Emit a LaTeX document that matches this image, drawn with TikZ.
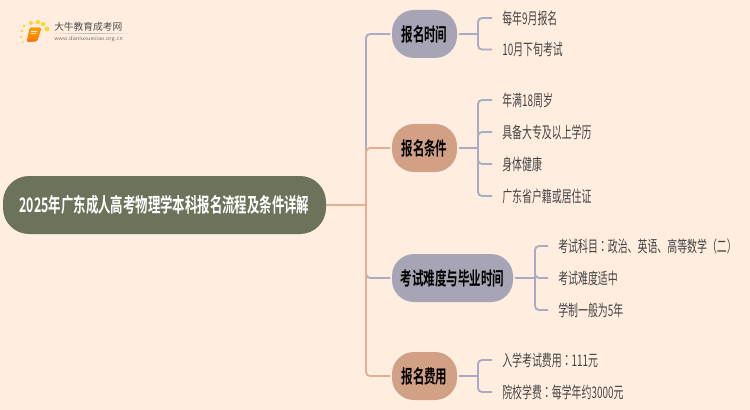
\documentclass[tikz,border=0pt]{standalone}
\usepackage{fontspec}
\newfontfamily\cjk[FakeStretch=0.62]{Noto Sans CJK SC}
\newfontfamily\cjkb[FakeStretch=0.62]{Noto Sans CJK SC Bold}
\newfontfamily\cjktc[FakeStretch=0.62]{Noto Sans CJK TC}
\newfontfamily\cjklogo{Noto Sans CJK SC}
\definecolor{bgc}{HTML}{FFEEE0}
\definecolor{rootc}{HTML}{6B735A}
\definecolor{grayb}{HTML}{A7A5B5}
\definecolor{brownb}{HTML}{D2A084}
\definecolor{linegray}{HTML}{A9ABC4}
\definecolor{lineorange}{HTML}{E3AE92}
\definecolor{leaftext}{HTML}{444444}
\tikzset{
  x=0.75pt,y=-0.75pt,
  rootbox/.style={fill=rootc,rounded corners=19.5pt,text=white,font=\cjkb\fontsize{15pt}{18pt}\selectfont,minimum height=43.5pt,minimum width=242.25pt,inner sep=0pt},
  branchbox/.style={rounded corners=16.5pt,text=black,font=\cjkb\fontsize{13.9pt}{16pt}\selectfont,minimum height=36pt,inner sep=0pt},
  graybox/.style={branchbox,fill=grayb},
  brownbox/.style={branchbox,fill=brownb},
  leaf/.style={anchor=west,inner ysep=0pt,inner xsep=7.5pt,text=leaftext,font=\cjk\fontsize{12pt}{14pt}\selectfont},
  conn/.style={line width=1.4pt,rounded corners=3pt,linegray},
  connb/.style={line width=1.4pt,rounded corners=3pt,lineorange},
}
\begin{document}
\begin{tikzpicture}
\useasboundingbox (0,0) rectangle (750,410);
\fill[bgc] (0,0) rectangle (750,410);
% logo
\foreach \p/\c/\s in {24/26/3,31/23/4,38/22/4.5,43/24/4.5,47/29/5,22/31/3,21/37/2.5,23/42/2}{
  \fill[yellow!70!orange,opacity=.8] (\p,\c) circle[radius=\s*0.5];
}
\path[top color=orange!70!yellow,bottom color=orange!90!red,draw=orange!85!red,line width=.4pt,rounded corners=1pt]
  (30,28) -- (41,28) -- (37,41) -- (27,42) -- cycle;
\draw[white!85!orange,line width=.5pt] (31,31) -- (37,31) (30.5,33) -- (36,33);
\shade[left color=bgc,right color=bgc,middle color=gray!60] (50,33.2) rectangle (132,34);
\node[inner sep=0pt,anchor=west,text=black!70,font=\cjklogo\fontsize{7.3pt}{9pt}\selectfont] (logoa) at (54,27) {大牛教育成考网};
\node[inner sep=0pt,anchor=west,text=black!55,font=\fontsize{4.6pt}{6pt}\selectfont\sffamily] (logob) at (54,39) {www.daniuxuexiao.org.cn};
% nodes
\node[rootbox] (root) at (164.5,205) {2025年广东成人高考物理学本科报名流程及条件详解};
\node[graybox,minimum width=48.75pt] (b1) at (424.5,34) {报名时间};
\node[brownbox,minimum width=48.75pt] (b2) at (424.5,148) {报名条件};
\node[graybox,minimum width=90.75pt] (b3) at (452.5,278) {考试难度与毕业时间};
\node[brownbox,minimum width=48.75pt] (b4) at (424.5,376) {报名费用};
\node[leaf] (l11) at (492,18) {每年9月报名};
\node[leaf] (l12) at (492,49.5) {10月下旬考试};
\node[leaf] (l21) at (492,100) {年满18周岁};
\node[leaf] (l22) at (492,132) {具备大专及以上学历};
\node[leaf] (l23) at (492,164) {身体健康};
\node[leaf] (l24) at (492,196) {广东省户籍或居住证};
\node[leaf] (l31) at (548,246) {考试科目{\cjktc ：}政治、英语、高等数学{\cjktc （二）}};
\node[leaf] (l32) at (548,278) {考试难度适中};
\node[leaf] (l33) at (548,310) {学制一般为5年};
\node[leaf] (l41) at (492,360) {入学考试费用{\cjktc ：}111元};
\node[leaf] (l42) at (492,392) {院校学费{\cjktc ：}每学年约3000元};
% junctions
\coordinate (sp) at (366,205);
\coordinate (j1) at (478,34);
\coordinate (j2) at (478,148);
\coordinate (j3) at (535,278);
\coordinate (j4) at (478,376);
% connectors
\draw[conn] (sp) |- ([xshift=-1pt]b1.west);
\draw[conn] (sp) |- ([xshift=-1pt]b3.west);
\draw[connb] (sp) |- ([xshift=-1pt]b2.west);
\draw[connb] (sp) |- ([xshift=-1pt]b4.west);
\draw[connb] (root.east) -- (sp);
\foreach \b/\j/\ls in {b1/j1/{l11,l12},b2/j2/{l21,l22,l23,l24},b3/j3/{l31,l32,l33},b4/j4/{l41,l42}}{
  \draw[conn] ([xshift=1pt]\b.east) -- (\j);
  \foreach \l in \ls { \draw[conn] (\j) |- (\l.west); }
}
\end{tikzpicture}
\end{document}
